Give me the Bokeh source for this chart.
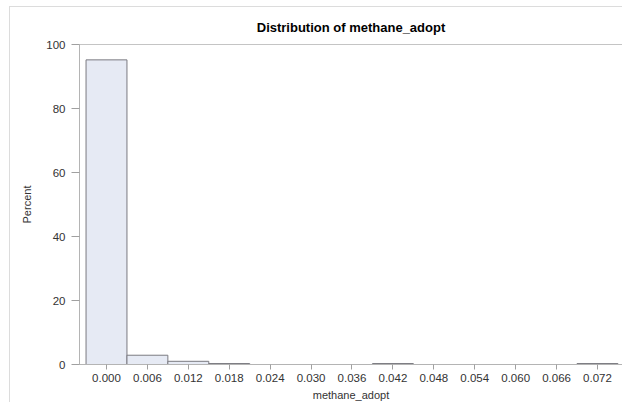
from bokeh.plotting import figure
from bokeh.models import FixedTicker, Range1d, ColumnDataSource
from bokeh.embed import file_html
from bokeh.resources import INLINE

# Data
bin_centers = [0.000, 0.006, 0.012, 0.018, 0.042, 0.072]
percents = [95.2, 2.9, 1.0, 0.3, 0.3, 0.3]
bin_width = 0.006
x_ticks = [0.000, 0.006, 0.012, 0.018, 0.024, 0.030, 0.036, 0.042,
           0.048, 0.054, 0.060, 0.066, 0.072]
y_ticks = [0, 20, 40, 60, 80, 100]

src = ColumnDataSource(dict(
    left=[c - bin_width / 2 for c in bin_centers],
    right=[c + bin_width / 2 for c in bin_centers],
    top=percents,
    bottom=[0] * len(percents),
))

FONT = "Liberation Sans"
AX = "#b4b4b4"
TXT = "#333333"

p = figure(width=613, height=396, output_backend="svg", toolbar_location=None,
           x_range=Range1d(-0.00396, 0.07567), y_range=Range1d(0, 100),
           min_border_left=69, min_border_right=1, min_border_top=37,
           min_border_bottom=29, title="Distribution of methane_adopt",
           margin=(6, 0, 0, 9))
p.styles = {"border-left": "1px solid #dcdcdc", "border-top": "1px solid #dcdcdc"}

p.quad(left="left", right="right", top="top", bottom="bottom", source=src,
       fill_color="#e6eaf4", line_color="#7a7a80", line_width=1)

p.title.align = "center"
p.title.text_font = FONT
p.title.text_font_size = "13px"
p.title.text_font_style = "bold"
p.title.text_color = "#000000"
p.title.offset = 0
p.title.standoff = 20

p.outline_line_color = "#c4c4c4"
p.xgrid.visible = False
p.ygrid.visible = False

p.xaxis.ticker = FixedTicker(ticks=x_ticks)
p.xaxis.major_label_overrides = {t: f"{t:.3f}" for t in x_ticks}
p.yaxis.ticker = FixedTicker(ticks=y_ticks)

for ax in (p.xaxis[0], p.yaxis[0]):
    ax.axis_line_color = AX
    ax.major_tick_line_color = "#a0a0a0"
    ax.minor_tick_line_color = None
    ax.major_tick_in = 0
    ax.major_label_text_font = FONT
    ax.major_label_text_font_size = "11.5px"
    ax.major_label_text_color = TXT
    ax.axis_label_text_font = FONT
    ax.axis_label_text_font_size = "11px"
    ax.axis_label_text_font_style = "normal"
    ax.axis_label_text_color = TXT

p.xaxis.axis_label = "methane_adopt"
p.xaxis.major_tick_out = 5
p.xaxis.major_label_standoff = 4
p.xaxis.axis_label_standoff = 4
p.yaxis.axis_label = "Percent"
p.yaxis.major_tick_out = 8
p.yaxis.major_label_standoff = 6
p.yaxis.axis_label_standoff = 10

open("out.html", "w").write(file_html(p, INLINE))
